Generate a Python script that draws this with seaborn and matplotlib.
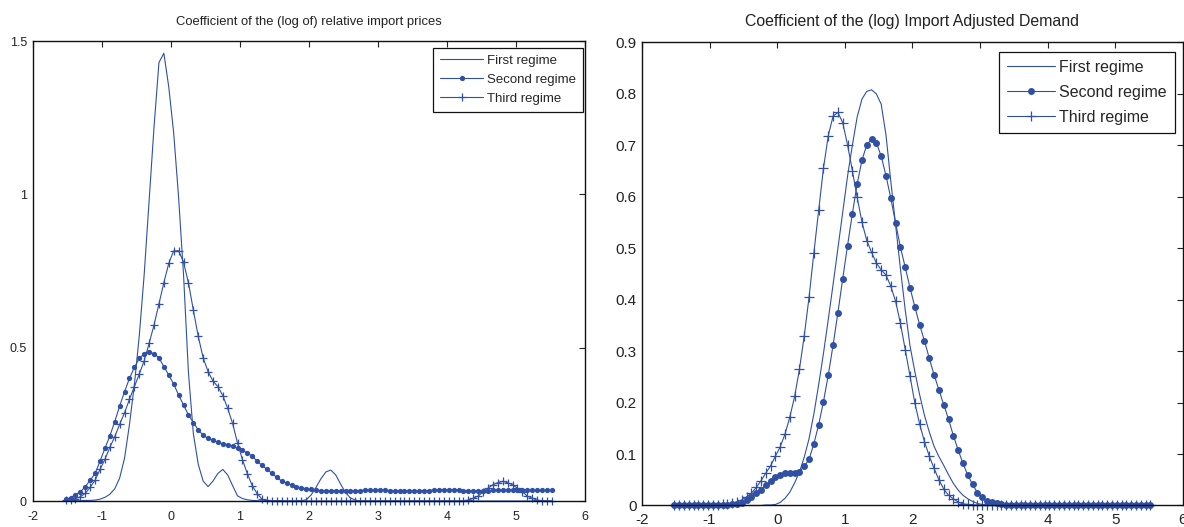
import numpy as np
import matplotlib
matplotlib.use("Agg")
import matplotlib.pyplot as plt
import seaborn as sns
from matplotlib.ticker import FuncFormatter

# ---------------- data ----------------
# kernel-density evaluation grid (100 points)
grid = np.linspace(-1.52, 5.52, 100)

series_labels = ["First regime", "Second regime", "Third regime"]

left_title = "Coefficient of the (log of) relative import prices"
right_title = "Coefficient of the (log) Import Adjusted Demand"

left_first = [
    0.001, 0.001, 0.001, 0.001, 0.002, 0.002, 0.003, 0.006, 0.012, 0.022,
    0.040, 0.075, 0.140, 0.250, 0.380, 0.540, 0.740, 0.980, 1.220, 1.430,
    1.460, 1.350, 1.200, 0.990, 0.740, 0.420, 0.220, 0.120, 0.065, 0.047,
    0.065, 0.090, 0.103, 0.085, 0.050, 0.017, 0.008, 0.004, 0.002, 0.001,
    0.000, 0.000, 0.000, 0.000, 0.000, 0.000, 0.000, 0.000, 0.001, 0.004,
    0.020, 0.045, 0.073, 0.095, 0.101, 0.085, 0.055, 0.027, 0.010, 0.003,
    0.000, 0.000, 0.000, 0.000, 0.000, 0.000, 0.000, 0.000, 0.000, 0.000,
    0.000, 0.000, 0.000, 0.000, 0.000, 0.000, 0.000, 0.000, 0.000, 0.000,
    0.000, 0.000, 0.000, 0.000, 0.000, 0.000, 0.000, 0.000, 0.000, 0.000,
    0.000, 0.000, 0.000, 0.000, 0.000, 0.000, 0.000, 0.000, 0.000, 0.000,
]

left_second = [
    0.005, 0.011, 0.020, 0.030, 0.047, 0.068, 0.090, 0.130, 0.172, 0.212,
    0.259, 0.310, 0.357, 0.400, 0.436, 0.465, 0.480, 0.486, 0.480, 0.467,
    0.438, 0.411, 0.381, 0.346, 0.313, 0.281, 0.256, 0.232, 0.215, 0.204,
    0.198, 0.191, 0.187, 0.184, 0.179, 0.172, 0.165, 0.157, 0.146, 0.130,
    0.116, 0.103, 0.090, 0.077, 0.065, 0.058, 0.052, 0.047, 0.043, 0.040,
    0.038, 0.036, 0.034, 0.034, 0.033, 0.033, 0.033, 0.033, 0.033, 0.033,
    0.034, 0.036, 0.036, 0.036, 0.036, 0.036, 0.034, 0.033, 0.033, 0.033,
    0.033, 0.033, 0.033, 0.033, 0.034, 0.037, 0.037, 0.037, 0.037, 0.037,
    0.037, 0.034, 0.033, 0.033, 0.033, 0.033, 0.033, 0.036, 0.036, 0.036,
    0.036, 0.036, 0.036, 0.035, 0.035, 0.035, 0.035, 0.035, 0.035, 0.035,
]

left_third = [
    0.002, 0.004, 0.008, 0.014, 0.025, 0.045, 0.068, 0.103, 0.136, 0.175,
    0.210, 0.250, 0.288, 0.332, 0.373, 0.414, 0.458, 0.514, 0.574, 0.643,
    0.712, 0.775, 0.816, 0.816, 0.779, 0.712, 0.623, 0.537, 0.467, 0.422,
    0.391, 0.373, 0.344, 0.302, 0.253, 0.189, 0.135, 0.089, 0.050, 0.024,
    0.006, 0.002, 0.001, 0.001, 0.001, 0.000, 0.000, 0.000, 0.000, 0.000,
    0.000, 0.000, 0.000, 0.000, 0.000, 0.000, 0.000, 0.000, 0.000, 0.000,
    0.000, 0.000, 0.000, 0.000, 0.000, 0.000, 0.000, 0.000, 0.000, 0.000,
    0.000, 0.000, 0.000, 0.000, 0.000, 0.000, 0.000, 0.000, 0.000, 0.000,
    0.000, 0.001, 0.003, 0.009, 0.016, 0.030, 0.042, 0.053, 0.060, 0.064,
    0.060, 0.053, 0.042, 0.030, 0.016, 0.009, 0.003, 0.001, 0.000, 0.000,
]

right_first = [
    0.000, 0.000, 0.000, 0.000, 0.000, 0.000, 0.000, 0.000, 0.000, 0.000,
    0.000, 0.000, 0.000, 0.000, 0.000, 0.000, 0.000, 0.000, 0.000, 0.001,
    0.001, 0.002, 0.006, 0.014, 0.026, 0.044, 0.065, 0.094, 0.130, 0.178,
    0.235, 0.296, 0.362, 0.430, 0.500, 0.570, 0.640, 0.700, 0.755, 0.790,
    0.805, 0.808, 0.800, 0.780, 0.720, 0.630, 0.545, 0.460, 0.380, 0.310,
    0.260, 0.215, 0.175, 0.143, 0.115, 0.095, 0.078, 0.060, 0.043, 0.030,
    0.020, 0.013, 0.008, 0.004, 0.002, 0.001, 0.000, 0.000, 0.000, 0.000,
    0.000, 0.000, 0.000, 0.000, 0.000, 0.000, 0.000, 0.000, 0.000, 0.000,
    0.000, 0.000, 0.000, 0.000, 0.000, 0.000, 0.000, 0.000, 0.000, 0.000,
    0.000, 0.000, 0.000, 0.000, 0.000, 0.000, 0.000, 0.000, 0.000, 0.000,
]

right_second = [
    0.001, 0.001, 0.001, 0.001, 0.001, 0.001, 0.001, 0.001, 0.001, 0.001,
    0.001, 0.001, 0.002, 0.003, 0.005, 0.011, 0.017, 0.025, 0.031, 0.040,
    0.048, 0.056, 0.060, 0.063, 0.063, 0.063, 0.066, 0.076, 0.090, 0.120,
    0.157, 0.202, 0.254, 0.312, 0.375, 0.441, 0.505, 0.567, 0.625, 0.671,
    0.701, 0.712, 0.705, 0.679, 0.641, 0.597, 0.549, 0.502, 0.463, 0.423,
    0.386, 0.351, 0.320, 0.286, 0.254, 0.225, 0.196, 0.168, 0.136, 0.108,
    0.082, 0.059, 0.041, 0.025, 0.016, 0.009, 0.006, 0.004, 0.002, 0.001,
    0.001, 0.001, 0.001, 0.001, 0.001, 0.001, 0.001, 0.001, 0.001, 0.001,
    0.001, 0.001, 0.001, 0.001, 0.001, 0.001, 0.001, 0.001, 0.001, 0.001,
    0.001, 0.001, 0.001, 0.001, 0.001, 0.001, 0.001, 0.001, 0.001, 0.001,
]

right_third = [
    0.001, 0.001, 0.001, 0.001, 0.001, 0.001, 0.001, 0.001, 0.001, 0.001,
    0.002, 0.003, 0.004, 0.007, 0.011, 0.017, 0.024, 0.035, 0.048, 0.063,
    0.077, 0.096, 0.114, 0.139, 0.172, 0.212, 0.265, 0.330, 0.405, 0.491,
    0.574, 0.656, 0.719, 0.757, 0.764, 0.744, 0.701, 0.651, 0.599, 0.551,
    0.515, 0.492, 0.471, 0.458, 0.448, 0.426, 0.397, 0.354, 0.303, 0.251,
    0.199, 0.158, 0.124, 0.096, 0.072, 0.050, 0.032, 0.020, 0.013, 0.007,
    0.003, 0.002, 0.001, 0.001, 0.001, 0.001, 0.001, 0.001, 0.001, 0.001,
    0.001, 0.001, 0.001, 0.001, 0.001, 0.001, 0.001, 0.001, 0.001, 0.001,
    0.001, 0.001, 0.001, 0.001, 0.001, 0.001, 0.001, 0.001, 0.001, 0.001,
    0.001, 0.001, 0.001, 0.001, 0.001, 0.001, 0.001, 0.001, 0.001, 0.001,
]

left_yticks = [0, 0.5, 1, 1.5]
right_yticks = [0, 0.1, 0.2, 0.3, 0.4, 0.5, 0.6, 0.7, 0.8, 0.9]
xticks = [-2, -1, 0, 1, 2, 3, 4, 5, 6]

# ---------------- style ----------------
sns.set_style("white")
plt.rcParams["font.family"] = ["Liberation Sans", "DejaVu Sans"]
BLUE = "#3050a6"
fmt = FuncFormatter(lambda v, p: "%g" % v)

fig = plt.figure(figsize=(11.84, 5.27), dpi=100)
axL = fig.add_axes([0.02745, 0.0493, 0.4666, 0.8729])
axR = fig.add_axes([0.5422, 0.0408, 0.4569, 0.8786])


def draw(ax, first, second, third, yticks, ymax, fs, xpad, dot_ms, plus_ms,
         title, title_fs, title_pad, leg_anchor, leg_fs, leg_hl, leg_ls):
    sns.lineplot(x=grid, y=first, ax=ax, color=BLUE, lw=0.8,
                 label=series_labels[0], clip_on=False)
    sns.lineplot(x=grid, y=second, ax=ax, color=BLUE, lw=0.8, marker="o",
                 markersize=dot_ms, markeredgewidth=0,
                 markeredgecolor=BLUE, markerfacecolor=BLUE,
                 label=series_labels[1], clip_on=False)
    sns.lineplot(x=grid, y=third, ax=ax, color=BLUE, lw=0.8, marker="+",
                 markersize=plus_ms, markeredgewidth=0.9,
                 markeredgecolor=BLUE, label=series_labels[2], clip_on=False)
    ax.set_xlim(-2, 6)
    ax.set_ylim(0, ymax)
    ax.set_xticks(xticks)
    ax.set_yticks(yticks)
    ax.xaxis.set_major_formatter(fmt)
    ax.yaxis.set_major_formatter(fmt)
    ax.tick_params(direction="in", top=True, right=True, length=4.5, width=0.8,
                   labelsize=fs, colors="#222222", pad=4)
    ax.tick_params(axis="x", pad=xpad)
    for s in ax.spines.values():
        s.set_visible(True)
        s.set_color("#111111")
        s.set_linewidth(1.0)
    ax.set_xlabel("")
    ax.set_ylabel("")
    ax.set_title(title, fontsize=title_fs, pad=title_pad, color="#222222")
    leg = ax.legend(loc="upper right", bbox_to_anchor=leg_anchor,
                    borderaxespad=0, fontsize=leg_fs, frameon=True,
                    fancybox=False, edgecolor="#111111", framealpha=1,
                    numpoints=1, handlelength=leg_hl, handletextpad=0.3,
                    labelspacing=leg_ls, borderpad=0.5)
    leg.get_frame().set_linewidth(0.9)


draw(axL, left_first, left_second, left_third, left_yticks, 1.5, 9, 7,
     3.8, 5.5, left_title, 9.4, 11.5, (0.9964, 0.9848), 9.5, 3.3, 0.52)
draw(axR, right_first, right_second, right_third, right_yticks, 0.9, 11, 5.5,
     5.0, 6.5, right_title, 11.4, 12, (0.9852, 0.9795), 11.5, 3.0, 0.62)

fig.savefig("out.png", dpi=100)
